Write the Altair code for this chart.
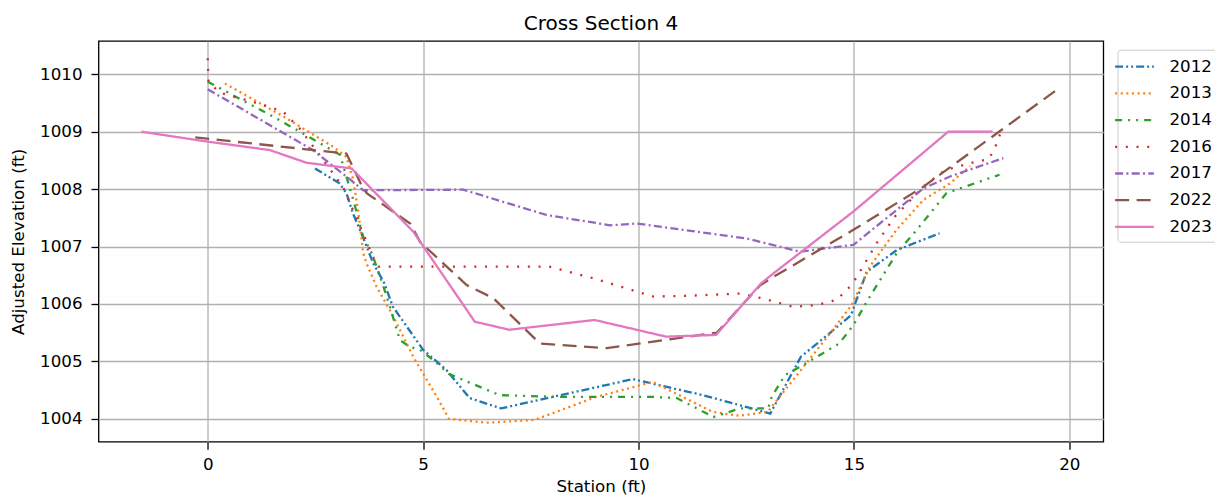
import altair as alt
import pandas as pd

years = ["2012", "2013", "2014", "2016", "2017", "2022", "2023"]
colors = ["#1f77b4", "#ff7f0e", "#2ca02c", "#d62728", "#9467bd", "#8c564b", "#e377c2"]
dashes = [[8, 3, 2, 3, 2, 3], [2, 3.6], [7, 6, 2, 6, 2, 6], [2, 8.7], [8, 3.3, 2, 3.3], [14, 7.5], [1, 0]]

x2012 = [2.49, 3.06, 3.22, 3.37, 3.6, 3.84, 4.1, 4.3, 5.0, 5.54, 6.08, 6.81, 9.87, 11.5, 13.06, 13.77, 14.39, 14.93, 15.3, 16.0, 16.99]
y2012 = [1008.36, 1008.1, 1007.93, 1007.58, 1007.17, 1006.71, 1006.36, 1005.95, 1005.2, 1004.85, 1004.36, 1004.18, 1004.69, 1004.41, 1004.09, 1005.08, 1005.46, 1005.8, 1006.56, 1006.94, 1007.23]

x2013 = [0.4, 1.68, 2.91, 3.22, 3.38, 3.5, 3.61, 3.69, 3.92, 4.31, 4.77, 5.32, 5.6, 6.47, 7.59, 9.02, 10.33, 11.72, 12.34, 13.0, 13.9, 14.45, 14.95, 15.37, 15.99, 16.61, 17.23, 17.7]
y2013 = [1009.84, 1009.3, 1008.74, 1008.56, 1008.16, 1007.58, 1006.88, 1006.7, 1006.3, 1005.78, 1005.08, 1004.38, 1004.0, 1003.93, 1003.98, 1004.38, 1004.64, 1004.12, 1004.05, 1004.12, 1004.97, 1005.49, 1005.98, 1006.65, 1007.29, 1007.81, 1008.1, 1008.4]

x2014 = [0.0, 1.6, 3.07, 3.38, 3.61, 3.81, 3.92, 4.08, 4.23, 4.46, 4.7, 4.93, 5.24, 5.6, 6.78, 8.18, 10.34, 10.89, 11.74, 12.36, 13.01, 13.09, 13.4, 13.83, 14.66, 14.99, 15.3, 15.99, 16.46, 17.15, 18.38]
y2014 = [1009.87, 1009.23, 1008.6, 1007.81, 1007.17, 1006.88, 1006.65, 1006.3, 1005.95, 1005.37, 1005.25, 1005.2, 1005.02, 1004.78, 1004.41, 1004.38, 1004.38, 1004.36, 1004.03, 1004.18, 1004.18, 1004.38, 1004.76, 1004.94, 1005.31, 1005.63, 1006.04, 1006.88, 1007.29, 1007.93, 1008.25]

x2016 = [0.0, 0.02, 0.32, 1.28, 1.75, 2.13, 2.56, 3.14, 3.84, 3.96, 7.93, 8.94, 10.33, 11.1, 12.36, 12.86, 13.59, 14.14, 14.6, 14.91, 15.07, 15.53, 15.95, 16.61, 17.11, 17.85, 18.12, 18.26, 18.34, 18.42]
y2016 = [1010.28, 1009.85, 1009.67, 1009.47, 1009.35, 1009.06, 1008.63, 1008.04, 1006.82, 1006.65, 1006.65, 1006.45, 1006.13, 1006.14, 1006.18, 1006.1, 1005.95, 1005.98, 1006.07, 1006.3, 1006.47, 1007.06, 1007.52, 1008.04, 1008.33, 1008.48, 1008.52, 1008.68, 1008.86, 1009.0]

x2017 = [0.0, 2.44, 3.22, 3.61, 5.93, 7.86, 9.34, 9.96, 12.51, 13.75, 14.99, 16.61, 17.23, 18.47]
y2017 = [1009.74, 1008.68, 1008.22, 1007.98, 1007.99, 1007.55, 1007.37, 1007.4, 1007.14, 1006.91, 1007.03, 1008.01, 1008.22, 1008.54]

x2022 = [-0.29, 3.22, 3.55, 3.69, 4.7, 4.93, 6.01, 6.63, 7.71, 9.26, 11.82, 12.82, 13.13, 14.99, 16.61, 19.71]
y2022 = [1008.9, 1008.62, 1008.1, 1007.93, 1007.4, 1007.08, 1006.33, 1006.1, 1005.31, 1005.23, 1005.5, 1006.32, 1006.47, 1007.29, 1008.04, 1009.73]

x2023 = [-1.54, -0.03, 1.44, 2.29, 3.34, 4.77, 6.2, 7.0, 8.98, 10.64, 11.8, 12.85, 13.13, 14.99, 17.19, 18.22]
y2023 = [1009.0, 1008.83, 1008.68, 1008.46, 1008.36, 1007.26, 1005.69, 1005.55, 1005.72, 1005.43, 1005.46, 1006.36, 1006.53, 1007.61, 1009.0, 1009.0]

series = {
    "2012": (x2012, y2012), "2013": (x2013, y2013), "2014": (x2014, y2014),
    "2016": (x2016, y2016), "2017": (x2017, y2017), "2022": (x2022, y2022),
    "2023": (x2023, y2023),
}

rows = []
for yr, (xs, ys) in series.items():
    for i, (a, b) in enumerate(zip(xs, ys)):
        rows.append({"year": yr, "station": a, "elev": b, "order": i})
df = pd.DataFrame(rows)

FONT = "DejaVu Sans"

chart = alt.Chart(df).mark_line(strokeWidth=2.3, strokeCap="butt").encode(
    x=alt.X("station:Q", title="Station (ft)",
            scale=alt.Scale(domain=[-2.535, 20.79], nice=False, zero=False),
            axis=alt.Axis(values=[0, 5, 10, 15, 20], format="d")),
    y=alt.Y("elev:Q", title="Adjusted Elevation (ft)",
            scale=alt.Scale(domain=[1003.6, 1010.58], nice=False, zero=False),
            axis=alt.Axis(values=[1004, 1005, 1006, 1007, 1008, 1009, 1010], format="d")),
    color=alt.Color("year:N", scale=alt.Scale(domain=years, range=colors),
                    legend=alt.Legend(title=None)),
    strokeDash=alt.StrokeDash("year:N", scale=alt.Scale(domain=years, range=dashes),
                              legend=alt.Legend(title=None)),
    order="order:Q",
).properties(
    width=1004.8,
    height=400.7,
    title=alt.TitleParams("Cross Section 4", fontSize=20, font=FONT, fontWeight="normal",
                          color="black", anchor="middle", offset=7),
    autosize=alt.AutoSizeParams(type="none"),
    padding={"left": 90.5, "top": 33, "right": 111.7, "bottom": 56},
).configure_view(
    stroke="black", strokeWidth=1.3
).configure_axis(
    domain=False,
    grid=True, gridColor="#b0b0b0", gridWidth=1.3,
    tickColor="black", tickWidth=1.3, tickSize=7.5,
    labelFont=FONT, labelFontSize=16.7, labelColor="black",
    titleFont=FONT, titleFontSize=16.7, titleColor="black", titleFontWeight="normal",
).configure_axisX(
    labelPadding=7, titlePadding=6,
).configure_axisY(
    labelPadding=9, titlePadding=12,
).configure_legend(
    orient="none", legendX=1019, legendY=8.7,
    symbolType="M-2,0L2,0", symbolSize=375, symbolStrokeWidth=2.3,
    labelFont=FONT, labelFontSize=16.7, labelColor="black", labelOffset=24,
    rowPadding=6.7, padding=6,
    strokeColor="#cccccc", fillColor="white", cornerRadius=3,
)

chart.save("out.html", embed_options={"renderer": "svg", "actions": False})
